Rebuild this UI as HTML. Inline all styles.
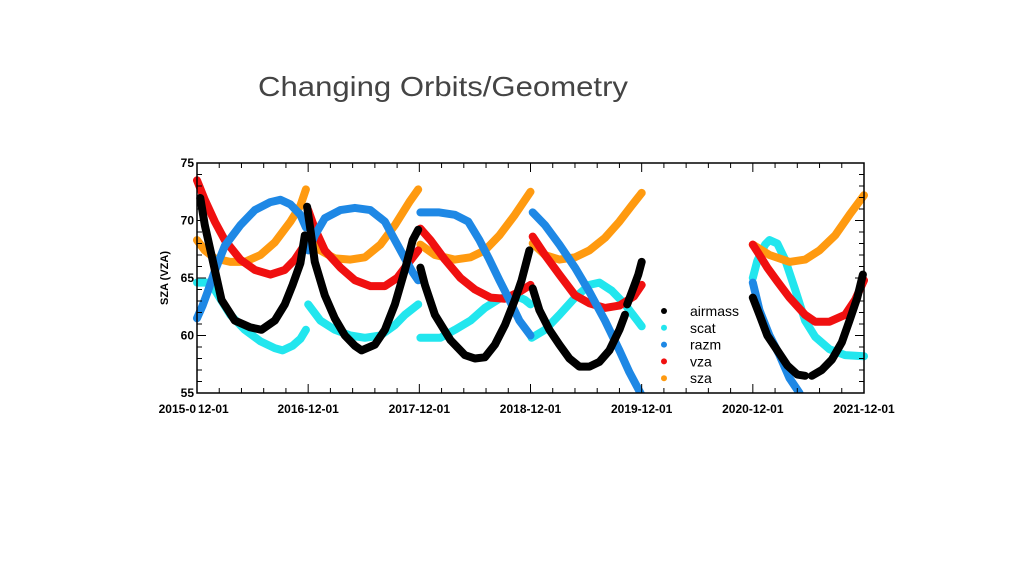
<!DOCTYPE html>
<html><head><meta charset="utf-8"><style>
html,body{margin:0;padding:0;background:#fff;}
svg{display:block;font-family:"Liberation Sans",sans-serif;}
</style></head><body>
<svg id="chart" width="1024" height="576" viewBox="0 0 1024 576">
<text x="258" y="96" font-size="28" fill="#444" textLength="370" lengthAdjust="spacingAndGlyphs">Changing Orbits/Geometry</text>
<g id="plot"></g>
</svg>
<script>
// Years since 2015-12-01; null separates segments
const yTicks=[55,60,65,70,75];
const xTickLabels=["2015-0","2016-12-01","2017-12-01","2018-12-01","2019-12-01","2020-12-01","2021-12-01"];
const seriesNames=["airmass","scat","razm","vza","sza"];
const airmassT=[0.03,0.07,0.13,0.22,0.34,0.48,0.58,0.70,0.79,0.86,0.93,0.97,null,0.99,1.02,1.06,1.15,1.24,1.33,1.42,1.48,1.60,1.69,1.78,1.87,1.94,1.99,null,2.01,2.05,2.14,2.28,2.41,2.50,2.59,2.68,2.77,2.86,2.92,2.99,null,3.02,3.08,3.17,3.26,3.35,3.44,3.53,3.62,3.71,3.80,3.85,null,3.87,3.92,3.97,4.00,null,5.00,5.06,5.13,5.22,5.31,5.40,5.47,null,5.53,5.62,5.71,5.80,5.87,5.94,5.99];
const airmassV=[71.96,69.6,67.0,63.1,61.3,60.7,60.5,61.3,62.7,64.4,66.3,68.7,null,71.2,69.2,66.4,63.5,61.5,60.0,59.1,58.7,59.2,60.5,62.7,65.7,68.3,69.2,null,65.9,64.4,61.8,59.6,58.3,58.0,58.1,59.2,60.9,63.1,64.8,67.4,null,64.1,62.2,60.5,59.2,58.0,57.3,57.3,57.7,58.7,60.5,61.8,null,62.7,64.0,65.3,66.4,null,63.3,61.8,60.0,58.7,57.4,56.6,56.5,null,56.5,57.0,57.9,59.4,61.3,63.3,65.3];
const scatT=[0,0.12,0.19,0.30,0.43,0.57,0.70,0.77,0.86,0.93,0.98,null,1.00,1.11,1.24,1.38,1.51,1.65,1.78,1.87,1.99,null,2.01,2.19,2.32,2.46,2.59,2.72,2.86,2.95,3.00,null,3.01,3.13,3.26,3.40,3.53,3.62,3.73,3.85,4.00,null,5.00,5.04,5.11,5.15,5.22,5.29,5.38,5.47,5.56,5.69,5.83,6.00];
const scatV=[64.6,64.6,63.5,61.8,60.5,59.5,58.9,58.7,59.1,59.7,60.5,null,62.7,61.3,60.5,60.0,59.8,60.0,60.9,61.8,62.7,null,59.8,59.8,60.5,61.3,62.4,63.2,63.5,63.1,62.7,null,59.8,60.5,61.8,63.3,64.4,64.6,63.9,62.7,60.8,null,65.0,66.5,67.9,68.3,68.0,66.6,64.0,61.3,59.9,58.8,58.3,58.2];
const razmT=[0,0.05,0.10,0.16,0.25,0.39,0.52,0.66,0.75,0.84,0.93,0.98,null,1.00,1.06,1.15,1.29,1.42,1.56,1.69,1.78,1.87,1.94,1.99,null,2.01,2.18,2.32,2.44,2.54,2.63,2.72,2.81,2.90,3.00,null,3.02,3.13,3.26,3.40,3.53,3.67,3.80,3.89,4.00,null,5.00,5.06,5.15,5.24,5.33,5.42];
const razmV=[61.5,62.6,63.9,65.6,67.8,69.6,70.9,71.6,71.8,71.4,70.5,69.4,null,67.4,68.7,70.2,70.9,71.1,70.9,69.9,68.3,66.7,65.5,64.8,null,70.7,70.7,70.5,69.9,68.3,66.6,64.8,63.1,61.3,60.0,null,70.7,69.6,67.9,65.9,63.8,61.3,58.7,56.8,54.8,null,64.6,62.2,60.0,58.3,56.3,55.0];
const vzaT=[0,0.07,0.16,0.25,0.39,0.52,0.66,0.79,0.88,0.97,null,1.00,1.06,1.15,1.29,1.42,1.56,1.69,1.80,1.91,1.99,null,2.01,2.10,2.23,2.37,2.50,2.64,2.77,2.90,3.00,null,3.02,3.13,3.26,3.40,3.53,3.67,3.80,3.93,4.00,null,5.00,5.06,5.13,5.22,5.33,5.47,5.56,5.69,5.83,5.92,6.00];
const vzaV=[73.5,71.8,69.9,68.3,66.6,65.7,65.3,65.7,66.6,67.9,null,70.9,69.3,67.4,65.9,64.8,64.3,64.3,65.0,66.4,67.4,null,69.3,68.3,66.6,65.0,64.0,63.3,63.2,63.8,64.4,null,68.6,67.0,65.3,63.5,62.8,62.4,62.6,63.4,64.4,null,67.9,67.0,65.9,64.7,63.3,61.8,61.2,61.2,61.8,63.1,64.8];
const szaT=[0,0.07,0.16,0.30,0.43,0.57,0.70,0.84,0.93,0.98,null,1.00,1.11,1.24,1.38,1.51,1.65,1.78,1.91,1.99,null,2.01,2.14,2.32,2.46,2.59,2.72,2.86,3.00,null,3.02,3.13,3.26,3.40,3.53,3.67,3.80,3.91,4.00,null,5.00,5.15,5.33,5.47,5.60,5.74,5.87,6.00];
const szaV=[68.3,67.4,66.7,66.4,66.4,67.0,68.1,69.9,71.3,72.7,null,68.3,67.4,66.7,66.6,66.8,67.9,69.6,71.6,72.7,null,67.9,67.0,66.6,66.8,67.4,68.7,70.5,72.5,null,68.0,67.0,66.6,66.8,67.4,68.5,69.9,71.3,72.4,null,67.9,67.0,66.4,66.6,67.4,68.7,70.5,72.2];

const NS="http://www.w3.org/2000/svg";
const X0=197,X1=864,Y0=163,Y1=393;
const xS=t=>X0+t*(X1-X0)/6;
const yS=v=>Y1-(v-55)*(Y1-Y0)/20;
const plot=document.getElementById('plot');
function mk(tag,attrs,parent){const e=document.createElementNS(NS,tag);for(const k in attrs)e.setAttribute(k,attrs[k]);(parent||plot).appendChild(e);return e;}

const clip=mk('clipPath',{id:'pc'});
mk('rect',{x:X0-4,y:Y0,width:X1-X0+8,height:Y1-Y0},clip);

const series=[[airmassT,airmassV,'#000000'],[scatT,scatV,'#22e6ee'],[razmT,razmV,'#1e88e5'],[vzaT,vzaV,'#f01010'],[szaT,szaV,'#ff9a10']];
const drawOrder=[1,4,3,2,0];
drawOrder.forEach(si=>{
  const [T,V,c]=series[si];
  const g=mk('g',{'clip-path':'url(#pc)'});
  
  
  let pts=[];
  const flush=()=>{if(pts.length>1){const p=mk('polyline',{points:pts.join(' '),fill:'none',stroke:c,'stroke-width':8,'stroke-linecap':'round','stroke-linejoin':'round'},g);
    
    }pts=[];};
  for(let i=0;i<T.length;i++){
    if(T[i]===null){flush();continue;}
    pts.push(xS(T[i]).toFixed(1)+','+yS(V[i]).toFixed(1));
  }
  flush();
});

const box=mk('rect',{x:X0,y:Y0,width:X1-X0,height:Y1-Y0,fill:'none',stroke:'#000','stroke-width':1.5});


for(let v=55;v<=75;v++){
  const y=yS(v),L=(v%5===0)?9:5;
  mk('line',{x1:X0,x2:X0+L,y1:y,y2:y,stroke:'#000','stroke-width':1});
  mk('line',{x1:X1,x2:X1-L,y1:y,y2:y,stroke:'#000','stroke-width':1});
}
yTicks.forEach(v=>{
  const t=mk('text',{x:X0-3,y:yS(v)+4,'text-anchor':'end','font-size':12,'font-weight':'bold'});
  t.textContent=v;
  
  
});
for(let k=0;k<=30;k++){
  const x=X0+k*(X1-X0)/30,L=(k%5===0)?9:5;
  mk('line',{x1:x,x2:x,y1:Y1,y2:Y1-L,stroke:'#000','stroke-width':1});
  mk('line',{x1:x,x2:x,y1:Y0,y2:Y0+L,stroke:'#000','stroke-width':1});
}
xTickLabels.forEach((s,i)=>{
  const t=mk('text',{x:i===0?X0-1:xS(i),y:413,'text-anchor':i===0?'end':'middle','font-size':12,'font-weight':'bold'});
  t.textContent=s;
  
  
});
const t0=mk('text',{x:X0+1,y:413,'font-size':12,'font-weight':'bold'});
t0.textContent="12-01";


const yt=mk('text',{x:0,y:0,'font-size':11,'font-weight':'bold','text-anchor':'middle',transform:'translate(168,278) rotate(-90)'});
yt.textContent="SZA (VZA)";


const lg=mk('g',{});


seriesNames.forEach((n,i)=>{
  const y=311+i*16.8;
  const e=mk('g',{},lg);
  
  
  mk('circle',{cx:664,cy:y,r:3,fill:series[i][2]},e);
  const t=mk('text',{x:690,y:y+5,'font-size':14},e);
  t.textContent=n;
});
</script>
</body></html>
